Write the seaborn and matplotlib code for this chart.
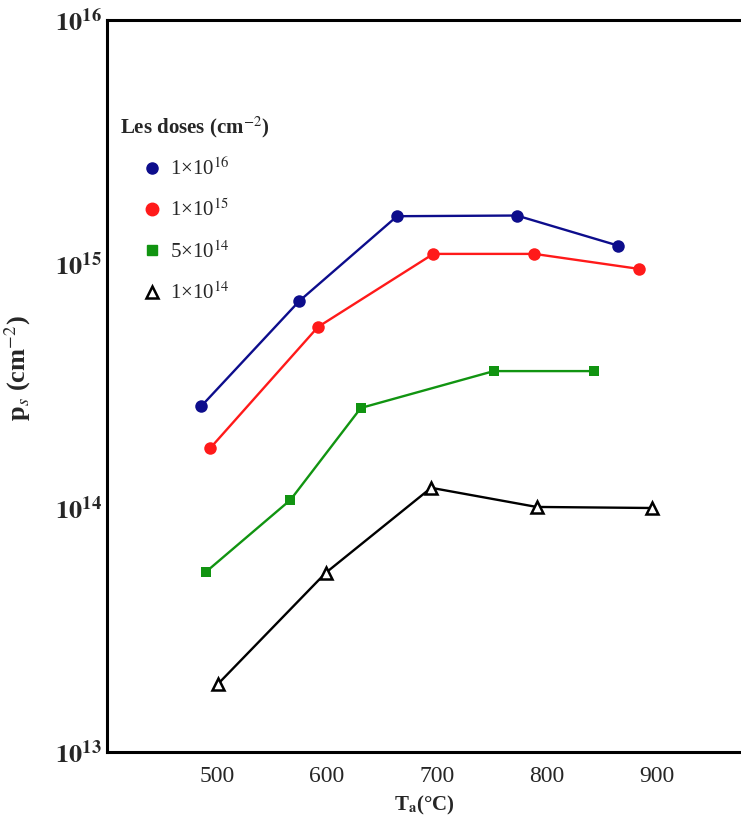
import numpy as np
import pandas as pd
import matplotlib
matplotlib.use("Agg")
import matplotlib.pyplot as plt
from matplotlib.lines import Line2D
import seaborn as sns

# ---- data ----
dose_labels = ["1×10$^{16}$", "1×10$^{15}$", "5×10$^{14}$", "1×10$^{14}$"]
temp_d16 = [486, 575, 664, 773, 865]
ps_d16 = [2.62e14, 7.05e14, 1.57e15, 1.58e15, 1.19e15]
temp_d15 = [494, 592, 697, 789, 884]
ps_d15 = [1.76e14, 5.52e14, 1.10e15, 1.10e15, 9.55e14]
temp_d5_14 = [490, 567, 631, 752, 843]
ps_d5_14 = [5.47e13, 1.08e14, 2.57e14, 3.64e14, 3.64e14]
temp_d14 = [501, 599, 695, 791, 896]
ps_d14 = [1.90e13, 5.42e13, 1.21e14, 1.01e14, 1.00e14]
x_ticks = [500, 600, 700, 800, 900]
y_ticks = [1e13, 1e14, 1e15, 1e16]

frames = []
for lab, t, p in zip(dose_labels,
                     [temp_d16, temp_d15, temp_d5_14, temp_d14],
                     [ps_d16, ps_d15, ps_d5_14, ps_d14]):
    frames.append(pd.DataFrame({"T": t, "ps": p, "dose": lab}))
df = pd.concat(frames, ignore_index=True)

sns.set_style("white")
plt.rcParams["font.family"] = ["Liberation Serif", "DejaVu Serif"]
plt.rcParams["mathtext.fontset"] = "stix"

colors = {dose_labels[0]: "#0d0d8c", dose_labels[1]: "#ff1a1a",
          dose_labels[2]: "#119411", dose_labels[3]: "#000000"}
markers = {dose_labels[0]: "o", dose_labels[1]: "o",
           dose_labels[2]: "s", dose_labels[3]: "^"}

fig = plt.figure(figsize=(7.41, 8.18), dpi=100)
ax = fig.add_axes([107 / 741, 66 / 818, 634 / 741, 732 / 818])

sns.lineplot(data=df, x="T", y="ps", hue="dose", style="dose",
             palette=colors, markers=markers, dashes=False,
             hue_order=dose_labels, style_order=dose_labels,
             linewidth=1.7, markersize=8, markeredgewidth=0,
             legend=False, ax=ax)

for line in ax.lines:
    if line.get_marker() == "^":
        line.set_markerfacecolor("white")
        line.set_markeredgecolor("black")
        line.set_markeredgewidth(1.8)
        line.set_markersize(9)
    elif line.get_marker() == "s":
        line.set_markersize(7)
    else:
        line.set_markersize(9)

ax.set_yscale("log")
ax.set_xlim(400, 977)
ax.set_ylim(1e13, 1e16)
ax.set_yticks(y_ticks)
ax.set_yticklabels([r"$\mathbf{10^{%d}}$" % int(np.log10(v)) for v in y_ticks],
                   fontsize=19)
ax.yaxis.set_minor_locator(matplotlib.ticker.NullLocator())
ax.set_xticks(x_ticks)
ax.set_xticklabels([str(v) for v in x_ticks], fontsize=17)

for s in ["left", "top", "bottom"]:
    ax.spines[s].set_color("black")
    ax.spines[s].set_linewidth(2.2)
ax.spines["right"].set_visible(False)
ax.tick_params(axis="both", direction="in", width=2, color="black")
ax.tick_params(axis="x", length=12, pad=10)
ax.tick_params(axis="y", length=8, pad=4)

ax.set_xlabel("T$_{\\mathbf{a}}$(°C)", fontsize=15, fontweight="bold", labelpad=5)
ax.set_ylabel("p$_{s}$ (cm$^{-2}$)", fontsize=19, fontweight="bold")
ax.yaxis.set_label_coords(-0.117, 0.525)

handles = [
    Line2D([], [], linestyle="", marker="o", color=colors[dose_labels[0]], markersize=8),
    Line2D([], [], linestyle="", marker="o", color=colors[dose_labels[1]], markersize=9),
    Line2D([], [], linestyle="", marker="s", color=colors[dose_labels[2]], markersize=7),
    Line2D([], [], linestyle="", marker="^", markerfacecolor="white",
           markeredgecolor="black", markeredgewidth=1.8, markersize=8),
]
ax.text(13 / 634, (752 - 127) / 732, "Les doses (cm$^{-2}$)", transform=ax.transAxes,
        fontsize=15, fontweight="bold", va="center", ha="left")
leg = ax.legend(handles, dose_labels,
                loc="upper left", bbox_to_anchor=(0.0546, 0.812), frameon=False,
                fontsize=15, handletextpad=0.35, labelspacing=0.94,
                borderaxespad=0.0, borderpad=0.0, handlelength=1.0)

fig.savefig("out.png", dpi=100, facecolor="white")
